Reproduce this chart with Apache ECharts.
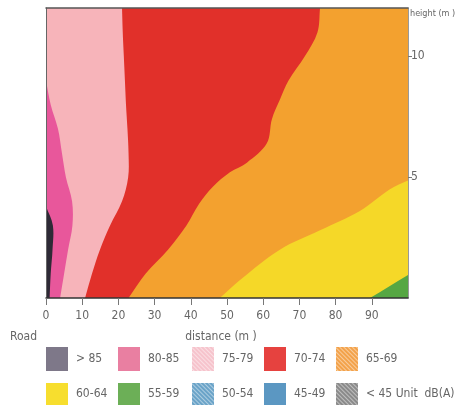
<!DOCTYPE html>
<html>
<head>
<meta charset="utf-8">
<script src="https://cdn.jsdelivr.net/npm/echarts@6/dist/echarts.min.js"></script>
<style>
  html, body { margin: 0; padding: 0; background: #fff; }
  #chart { width: 460px; height: 408px; }
</style>
</head>
<body>
<div id="chart"></div>
<script>
// Noise-level zones beside a road: each zone lies to the right of its edge.
// Edges are [distance (m), height (m)] points listed from the ground upward.
const roadEdge = [[0, 0], [0, 12]];
const edge85 = [[1.0, 0], [1.3, 1], [1.8, 2], [1.9, 3], [0, 3.8]];
const edge80 = [[3.9, 0], [5.0, 1], [6.1, 2], [7.3, 3], [7.2, 4], [5.5, 5], [4.4, 6], [3.3, 7], [1.3, 8], [0, 9]];
const edge75 = [[10.8, 0], [12.7, 1], [14.9, 2], [17.7, 3], [21, 4], [22.7, 5], [22.8, 6], [22.5, 7], [22.1, 8], [21.8, 9], [21.5, 10], [21.2, 11], [21, 12]];
const edge70 = [[22.8, 0], [27.5, 1], [33.7, 2], [38.8, 3], [42.3, 3.9], [46.1, 4.6], [50.8, 5.2], [55.5, 5.6], [61, 6.4], [62.4, 7.4], [64.6, 8.2], [67, 9], [71.5, 10], [75, 11], [75.7, 12]];
const edge65 = [[48, 0], [53.6, 0.75], [64.6, 2], [75.7, 2.8], [86.7, 3.6], [95, 4.5], [100.5, 4.9]];
const edge60 = [[89.5, 0], [100.5, 1]];

// Noise classes in dB(A)
const classNames = ['> 85', '80-85', '75-79', '70-74', '65-69', '60-64', '55-59', '50-54', '45-49', '< 45'];
const classEdges = [roadEdge, edge85, edge80, edge75, edge70, edge65, edge60, null, null, null];

// Axis extents and ticks
const distanceMax = 100;
const heightMax = 12;
const distanceTicks = [0, 10, 20, 30, 40, 50, 60, 70, 80, 90];
const heightTicks = [5, 10];

// Fill colours of the zones and of the legend keys
const zoneColors = ['#2e2a36', '#e8579b', '#f7b4ba', '#e1302a', '#f3a12f', '#f5d828', '#56a743', '#6aa3c8', '#5b97c2', '#8a8a8a'];
const keyColors = ['#7e7889', '#e97fa1', '#f6c3cc', '#e6423f', '#f3a24a', '#f7de2e', '#6caf57', '#6aa3c8', '#5b97c2', '#8a8a8a'];
const hatched = { '75-79': true, '65-69': true, '50-54': true, '< 45': true };

const FONT = "'Liberation Sans Narrow', 'DejaVu Sans Condensed', 'Liberation Sans', sans-serif";
const GREY = '#666';

// Builds the pixel polygon covering everything to the right of an edge.
function zonePolygon(edge, api) {
  const pts = edge.map(p => api.coord(p));
  const n = pts.length;
  const ext = (a, b) => {
    const dx = a[0] - b[0], dy = a[1] - b[1];
    const L = Math.hypot(dx, dy) || 1;
    return [a[0] + dx / L * 30, a[1] + dy / L * 30];
  };
  const head = ext(pts[0], pts[1]);
  const tail = ext(pts[n - 1], pts[n - 2]);
  const tl = api.coord([0, heightMax]);
  const br = api.coord([distanceMax, 0]);
  const M = 70;
  const L = tl[0] - M, R = br[0] + M, T = tl[1] - M, B = br[1] + M;
  const last = edge[n - 1];
  let route;
  if (last[1] >= heightMax) route = [[tail[0], T], [R, T], [R, B]];
  else if (last[0] <= 0) route = [[L, tail[1]], [L, T], [R, T], [R, B]];
  else route = [[R, tail[1]], [R, B]];
  return [head].concat(pts, [tail], route, [[head[0], B]]);
}

function renderer(edge) {
  return function (params, api) {
    if (!edge) return null;
    return {
      type: 'polygon',
      shape: { points: zonePolygon(edge, api), smooth: 0.35 },
      style: { fill: api.visual('color') }
    };
  };
}

const series = classNames.map((name, i) => ({
  name: name,
  type: 'custom',
  clip: true,
  coordinateSystem: 'cartesian2d',
  itemStyle: { color: zoneColors[i] },
  data: classEdges[i] ? [[0, 0]] : [],
  renderItem: renderer(classEdges[i])
}));

// One legend key per class, laid out as two rows of five.
const keyLeft = [46, 118, 192, 264, 336];
const rowTop = [347, 383];
const rowHeight = [24, 22];

const legends = classNames.map((name, i) => {
  const row = Math.floor(i / 5);
  const style = { color: keyColors[i] };
  if (hatched[name]) {
    style.decal = {
      color: 'rgba(255,255,255,0.45)',
      dashArrayX: [1, 0],
      dashArrayY: [1, 2],
      rotation: Math.PI / 4
    };
  }
  return {
    left: keyLeft[i % 5],
    top: rowTop[row],
    padding: 0,
    itemWidth: 22,
    itemHeight: rowHeight[row],
    icon: 'rect',
    selectedMode: false,
    formatter: n => (n === '< 45' ? '< 45 Unit  dB(A)' : n),
    textStyle: { padding: [0, 0, 0, 3], color: GREY, fontSize: 12, fontFamily: FONT },
    data: [{ name: name, itemStyle: style }]
  };
});

const chart = echarts.init(document.getElementById('chart'), null, { renderer: 'canvas' });
chart.setOption({
  animation: false,
  backgroundColor: '#fff',
  grid: { left: 46, right: 52, top: 8, bottom: 110, containLabel: false, outerBoundsMode: 'none' },
  xAxis: [{
    type: 'value',
    min: 0, max: distanceMax, interval: 10,
    z: 5,
    name: 'distance (m )',
    nameLocation: 'middle',
    nameGap: 33,
    nameTextStyle: { color: GREY, fontSize: 12, fontFamily: FONT, padding: [0, 12, 0, 0] },
    axisLine: { show: true, lineStyle: { color: '#333', width: 1.5 } },
    axisTick: { show: true, length: 7, customValues: distanceTicks, lineStyle: { color: '#777' } },
    axisLabel: { customValues: distanceTicks, color: GREY, fontSize: 12, fontFamily: FONT, margin: 12 },
    splitLine: { show: false }
  }, {
    type: 'value', position: 'top', min: 0, max: distanceMax, z: 5,
    axisLine: { show: true, onZero: false, lineStyle: { color: '#555', width: 1.5 } },
    axisTick: { show: false }, axisLabel: { show: false }, splitLine: { show: false }
  }],
  yAxis: [{
    type: 'value',
    position: 'right',
    min: 0, max: heightMax, interval: 5,
    z: 5,
    name: 'height (m )',
    nameLocation: 'end',
    nameGap: -6,
    nameTextStyle: { color: GREY, fontSize: 9, fontFamily: FONT, align: 'left', verticalAlign: 'middle', padding: [0, 0, 0, 2] },
    axisLine: { show: true, onZero: false, lineStyle: { color: '#999' } },
    axisTick: { show: true, length: 4, customValues: heightTicks, lineStyle: { color: '#777' } },
    axisLabel: { customValues: heightTicks, color: GREY, fontSize: 12, fontFamily: FONT, margin: 3 },
    splitLine: { show: false }
  }, {
    type: 'value', position: 'left', min: 0, max: heightMax, z: 5,
    axisLine: { show: true, onZero: false, lineStyle: { color: '#666' } },
    axisTick: { show: false }, axisLabel: { show: false }, splitLine: { show: false }
  }],
  legend: legends,
  graphic: [{
    type: 'text',
    left: 10,
    top: 331,
    style: { text: 'Road', fill: GREY, fontSize: 12, fontFamily: FONT }
  }],
  series: series
});
</script>
</body>
</html>
